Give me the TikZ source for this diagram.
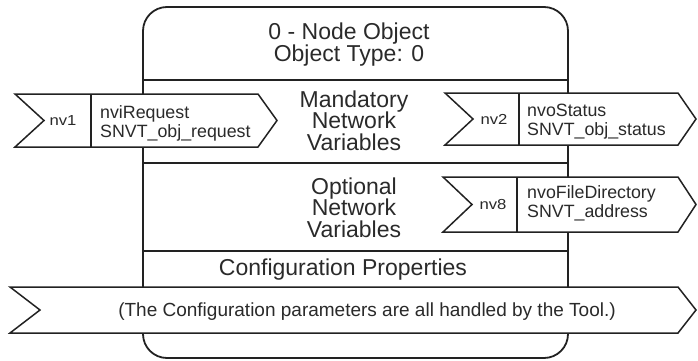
\documentclass[tikz,border=0pt]{standalone}
\usepackage{fontspec}
\setmainfont{Liberation Sans}
\newfontfamily\nvfont[FakeStretch=1.15]{Liberation Sans}
\usepackage{tikz}
\usetikzlibrary{positioning}
\definecolor{objline}{HTML}{222222}
\definecolor{objtext}{HTML}{2A2A2A}

\begin{document}
\begin{tikzpicture}[x=1pt, y=-1pt,
    boxline/.style={objline, line width=1.8pt},
    nvarrow/.style={objline, line width=1.5pt, fill=white, line join=miter},
    maintext/.style={objtext, font=\fontsize{23}{21.5}\selectfont, align=center, inner sep=0pt},
    nvname/.style={objtext, font=\fontsize{17.8}{19}\selectfont, align=left, inner sep=0pt, anchor=west},
    nvlabel/.style={objtext, font=\nvfont\fontsize{14.5}{15}\selectfont, inner sep=0pt}]
  \useasboundingbox (0,0) rectangle (698,361);

  % ── Object frame ──
  \draw[boxline, rounded corners=24] (143,358) -- (143,7) -- (568,7) -- (568,358) -- cycle;
  \draw[boxline] (143,80) -- (568,80);
  \draw[boxline] (143,163) -- (568,163);
  \draw[boxline] (143,251) -- (568,251);

  \node[maintext] (title) at (349,44.5) {0 - Node Object\\Object Type: 0};
  \node[maintext] (mandatory) at (354,120.5) {Mandatory\\Network\\Variables};
  \node[maintext] (optional) at (354,207.5) {Optional\\Network\\Variables};
  \node[maintext] (cfgprops) at (343,269.5) {Configuration Properties};

  % ── nv1 input ──
  \draw[nvarrow] (15,94) -- (258,94) -- (277,120.5) -- (258,147) -- (15,147) -- (44,120.5) -- cycle;
  \draw[nvarrow] (91,94) -- (91,147);
  \node[nvlabel] (nv1) at (63,120.5) {nv1};
  \node[nvname] (nvireq) at (100,123) {nviRequest\\SNVT\_obj\_request};

  % ── nv2 output ──
  \draw[nvarrow] (445,93) -- (678,93) -- (696,119) -- (678,145) -- (445,145) -- (473,119) -- cycle;
  \draw[nvarrow] (519,93) -- (519,145);
  \node[nvlabel] (nv2) at (494,119.5) {nv2};
  \node[nvname] (nvostatus) at (527,121.5) {nvoStatus\\SNVT\_obj\_status};

  % ── nv8 output ──
  \draw[nvarrow] (443,177) -- (678,177) -- (696,204.5) -- (678,232) -- (443,232) -- (472,204.5) -- cycle;
  \draw[nvarrow] (517,177) -- (517,232);
  \node[nvlabel] (nv8) at (493,204.5) {nv8};
  \node[nvname] (nvofiledir) at (527,203) {nvoFileDirectory\\SNVT\_address};

  % ── Configuration band ──
  \draw[nvarrow] (10,287) -- (678,287) -- (696,310) -- (678,333) -- (10,333) -- (40,310) -- cycle;
  \node[maintext, font=\fontsize{19}{21}\selectfont] (cfgnote) at (367,311.5) {(The Configuration parameters are all handled by the Tool.)};
\end{tikzpicture}
\end{document}
